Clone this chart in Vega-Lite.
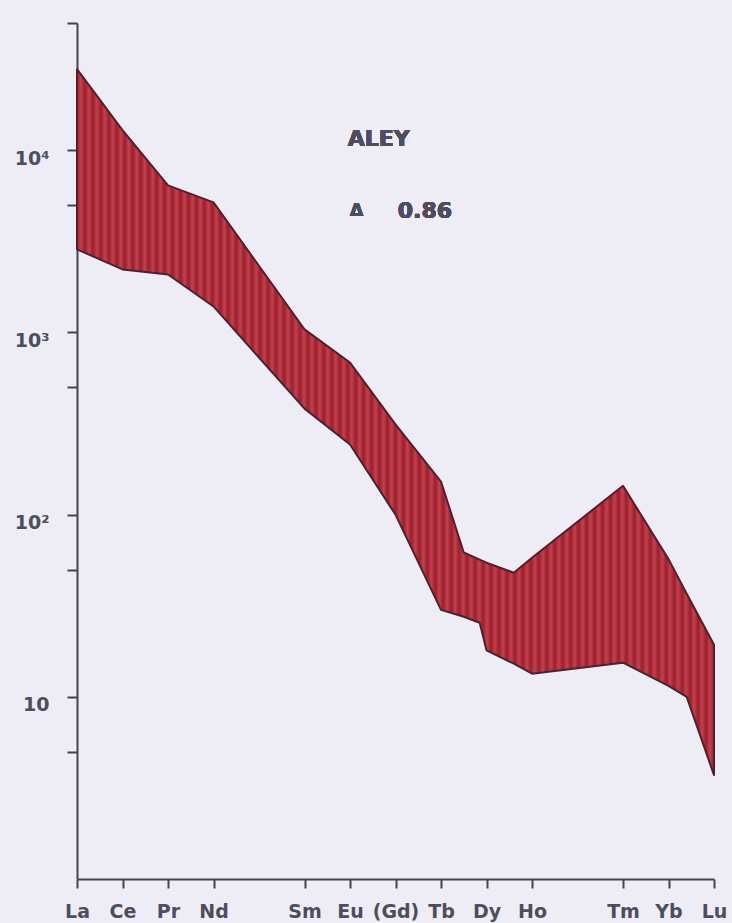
{
  "$schema": "https://vega.github.io/schema/vega-lite/v6.json",
  "autosize": {"type": "none"},
  "width": 637,
  "height": 856,
  "padding": {"left": 77, "top": 23, "right": 18, "bottom": 44},
  "background": "#eeedf6",
  "config": {"view": {"stroke": null}},
  "data": {"values": [
    {"z": 57, "upper": 27900, "lower": 2860},
    {"z": 58, "upper": 12900, "lower": 2220},
    {"z": 59, "upper": 6420, "lower": 2080},
    {"z": 60, "upper": 5180, "lower": 1390},
    {"z": 62, "upper": 1040, "lower": 382},
    {"z": 63, "upper": 684, "lower": 243},
    {"z": 64, "upper": 313, "lower": 100},
    {"z": 65, "upper": 152, "lower": 30},
    {"z": 65.5, "upper": 62, "lower": 27.5},
    {"z": 65.85, "upper": 56.6, "lower": 25.5},
    {"z": 66, "upper": 54.5, "lower": 18},
    {"z": 66.6, "upper": 48, "lower": 15.2},
    {"z": 67, "upper": 58, "lower": 13.4},
    {"z": 69, "upper": 144, "lower": 15.4},
    {"z": 70, "upper": 57, "lower": 11.5},
    {"z": 70.4, "upper": 36.8, "lower": 10},
    {"z": 71, "upper": 19.3, "lower": 3.72}
  ]},
  "layer": [
    {
      "mark": {
        "type": "area",
        "stroke": "#4e2030",
        "strokeWidth": 2,
        "strokeJoin": "round",
        "color": {
          "gradient": "linear", "x1": 0, "x2": 1, "y1": 0, "y2": 0,
          "stops": [
            {"offset": 0, "color": "#98202f"}, {"offset": 0.00625, "color": "#c6404c"}, {"offset": 0.0125, "color": "#98202f"}, {"offset": 0.01875, "color": "#c6404c"},
            {"offset": 0.025, "color": "#98202f"}, {"offset": 0.03125, "color": "#c6404c"}, {"offset": 0.0375, "color": "#98202f"}, {"offset": 0.04375, "color": "#c6404c"},
            {"offset": 0.05, "color": "#98202f"}, {"offset": 0.05625, "color": "#c6404c"}, {"offset": 0.0625, "color": "#98202f"}, {"offset": 0.06875, "color": "#c6404c"},
            {"offset": 0.075, "color": "#98202f"}, {"offset": 0.08125, "color": "#c6404c"}, {"offset": 0.0875, "color": "#98202f"}, {"offset": 0.09375, "color": "#c6404c"},
            {"offset": 0.1, "color": "#98202f"}, {"offset": 0.10625, "color": "#c6404c"}, {"offset": 0.1125, "color": "#98202f"}, {"offset": 0.11875, "color": "#c6404c"},
            {"offset": 0.125, "color": "#98202f"}, {"offset": 0.13125, "color": "#c6404c"}, {"offset": 0.1375, "color": "#98202f"}, {"offset": 0.14375, "color": "#c6404c"},
            {"offset": 0.15, "color": "#98202f"}, {"offset": 0.15625, "color": "#c6404c"}, {"offset": 0.1625, "color": "#98202f"}, {"offset": 0.16875, "color": "#c6404c"},
            {"offset": 0.175, "color": "#98202f"}, {"offset": 0.18125, "color": "#c6404c"}, {"offset": 0.1875, "color": "#98202f"}, {"offset": 0.19375, "color": "#c6404c"},
            {"offset": 0.2, "color": "#98202f"}, {"offset": 0.20625, "color": "#c6404c"}, {"offset": 0.2125, "color": "#98202f"}, {"offset": 0.21875, "color": "#c6404c"},
            {"offset": 0.225, "color": "#98202f"}, {"offset": 0.23125, "color": "#c6404c"}, {"offset": 0.2375, "color": "#98202f"}, {"offset": 0.24375, "color": "#c6404c"},
            {"offset": 0.25, "color": "#98202f"}, {"offset": 0.25625, "color": "#c6404c"}, {"offset": 0.2625, "color": "#98202f"}, {"offset": 0.26875, "color": "#c6404c"},
            {"offset": 0.275, "color": "#98202f"}, {"offset": 0.28125, "color": "#c6404c"}, {"offset": 0.2875, "color": "#98202f"}, {"offset": 0.29375, "color": "#c6404c"},
            {"offset": 0.3, "color": "#98202f"}, {"offset": 0.30625, "color": "#c6404c"}, {"offset": 0.3125, "color": "#98202f"}, {"offset": 0.31875, "color": "#c6404c"},
            {"offset": 0.325, "color": "#98202f"}, {"offset": 0.33125, "color": "#c6404c"}, {"offset": 0.3375, "color": "#98202f"}, {"offset": 0.34375, "color": "#c6404c"},
            {"offset": 0.35, "color": "#98202f"}, {"offset": 0.35625, "color": "#c6404c"}, {"offset": 0.3625, "color": "#98202f"}, {"offset": 0.36875, "color": "#c6404c"},
            {"offset": 0.375, "color": "#98202f"}, {"offset": 0.38125, "color": "#c6404c"}, {"offset": 0.3875, "color": "#98202f"}, {"offset": 0.39375, "color": "#c6404c"},
            {"offset": 0.4, "color": "#98202f"}, {"offset": 0.40625, "color": "#c6404c"}, {"offset": 0.4125, "color": "#98202f"}, {"offset": 0.41875, "color": "#c6404c"},
            {"offset": 0.425, "color": "#98202f"}, {"offset": 0.43125, "color": "#c6404c"}, {"offset": 0.4375, "color": "#98202f"}, {"offset": 0.44375, "color": "#c6404c"},
            {"offset": 0.45, "color": "#98202f"}, {"offset": 0.45625, "color": "#c6404c"}, {"offset": 0.4625, "color": "#98202f"}, {"offset": 0.46875, "color": "#c6404c"},
            {"offset": 0.475, "color": "#98202f"}, {"offset": 0.48125, "color": "#c6404c"}, {"offset": 0.4875, "color": "#98202f"}, {"offset": 0.49375, "color": "#c6404c"},
            {"offset": 0.5, "color": "#98202f"}, {"offset": 0.50625, "color": "#c6404c"}, {"offset": 0.5125, "color": "#98202f"}, {"offset": 0.51875, "color": "#c6404c"},
            {"offset": 0.525, "color": "#98202f"}, {"offset": 0.53125, "color": "#c6404c"}, {"offset": 0.5375, "color": "#98202f"}, {"offset": 0.54375, "color": "#c6404c"},
            {"offset": 0.55, "color": "#98202f"}, {"offset": 0.55625, "color": "#c6404c"}, {"offset": 0.5625, "color": "#98202f"}, {"offset": 0.56875, "color": "#c6404c"},
            {"offset": 0.575, "color": "#98202f"}, {"offset": 0.58125, "color": "#c6404c"}, {"offset": 0.5875, "color": "#98202f"}, {"offset": 0.59375, "color": "#c6404c"},
            {"offset": 0.6, "color": "#98202f"}, {"offset": 0.60625, "color": "#c6404c"}, {"offset": 0.6125, "color": "#98202f"}, {"offset": 0.61875, "color": "#c6404c"},
            {"offset": 0.625, "color": "#98202f"}, {"offset": 0.63125, "color": "#c6404c"}, {"offset": 0.6375, "color": "#98202f"}, {"offset": 0.64375, "color": "#c6404c"},
            {"offset": 0.65, "color": "#98202f"}, {"offset": 0.65625, "color": "#c6404c"}, {"offset": 0.6625, "color": "#98202f"}, {"offset": 0.66875, "color": "#c6404c"},
            {"offset": 0.675, "color": "#98202f"}, {"offset": 0.68125, "color": "#c6404c"}, {"offset": 0.6875, "color": "#98202f"}, {"offset": 0.69375, "color": "#c6404c"},
            {"offset": 0.7, "color": "#98202f"}, {"offset": 0.70625, "color": "#c6404c"}, {"offset": 0.7125, "color": "#98202f"}, {"offset": 0.71875, "color": "#c6404c"},
            {"offset": 0.725, "color": "#98202f"}, {"offset": 0.73125, "color": "#c6404c"}, {"offset": 0.7375, "color": "#98202f"}, {"offset": 0.74375, "color": "#c6404c"},
            {"offset": 0.75, "color": "#98202f"}, {"offset": 0.75625, "color": "#c6404c"}, {"offset": 0.7625, "color": "#98202f"}, {"offset": 0.76875, "color": "#c6404c"},
            {"offset": 0.775, "color": "#98202f"}, {"offset": 0.78125, "color": "#c6404c"}, {"offset": 0.7875, "color": "#98202f"}, {"offset": 0.79375, "color": "#c6404c"},
            {"offset": 0.8, "color": "#98202f"}, {"offset": 0.80625, "color": "#c6404c"}, {"offset": 0.8125, "color": "#98202f"}, {"offset": 0.81875, "color": "#c6404c"},
            {"offset": 0.825, "color": "#98202f"}, {"offset": 0.83125, "color": "#c6404c"}, {"offset": 0.8375, "color": "#98202f"}, {"offset": 0.84375, "color": "#c6404c"},
            {"offset": 0.85, "color": "#98202f"}, {"offset": 0.85625, "color": "#c6404c"}, {"offset": 0.8625, "color": "#98202f"}, {"offset": 0.86875, "color": "#c6404c"},
            {"offset": 0.875, "color": "#98202f"}, {"offset": 0.88125, "color": "#c6404c"}, {"offset": 0.8875, "color": "#98202f"}, {"offset": 0.89375, "color": "#c6404c"},
            {"offset": 0.9, "color": "#98202f"}, {"offset": 0.90625, "color": "#c6404c"}, {"offset": 0.9125, "color": "#98202f"}, {"offset": 0.91875, "color": "#c6404c"},
            {"offset": 0.925, "color": "#98202f"}, {"offset": 0.93125, "color": "#c6404c"}, {"offset": 0.9375, "color": "#98202f"}, {"offset": 0.94375, "color": "#c6404c"},
            {"offset": 0.95, "color": "#98202f"}, {"offset": 0.95625, "color": "#c6404c"}, {"offset": 0.9625, "color": "#98202f"}, {"offset": 0.96875, "color": "#c6404c"},
            {"offset": 0.975, "color": "#98202f"}, {"offset": 0.98125, "color": "#c6404c"}, {"offset": 0.9875, "color": "#98202f"}, {"offset": 0.99375, "color": "#c6404c"},
            {"offset": 1, "color": "#98202f"}
          ]
        }
      },
      "encoding": {
        "x": {
          "field": "z", "type": "quantitative",
          "scale": {"domain": [57, 71], "nice": false, "zero": false},
          "axis": {
            "title": null, "grid": false,
            "values": [57, 58, 59, 60, 62, 63, 64, 65, 66, 67, 69, 70, 71],
            "labelExpr": "['La','Ce','Pr','Nd','Pm','Sm','Eu','(Gd)','Tb','Dy','Ho','Er','Tm','Yb','Lu'][datum.value - 57]",
            "domainColor": "#434352", "domainWidth": 2,
            "tickColor": "#434352", "tickWidth": 2, "tickSize": 9,
            "labelFont": "DejaVu Sans", "labelFontSize": 19, "labelFontWeight": "bold",
            "labelColor": "#4d4d5e", "labelPadding": 14,
            "labelOverlap": false, "labelFlush": false, "labelBound": false
          }
        },
        "y": {
          "field": "upper", "type": "quantitative",
          "scale": {"type": "log", "domain": [1, 50000], "nice": false},
          "axis": {
            "title": null, "grid": false,
            "values": [5, 10, 50, 100, 500, 1000, 5000, 10000, 50000],
            "labelExpr": "datum.value == 10 ? '10' : datum.value == 100 ? '10²' : datum.value == 1000 ? '10³' : datum.value == 10000 ? '10⁴' : ''",
            "domainColor": "#434352", "domainWidth": 2,
            "tickColor": "#434352", "tickWidth": 2, "tickSize": 10,
            "labelFont": "DejaVu Sans", "labelFontSize": 19, "labelFontWeight": "bold",
            "labelColor": "#4d4d5e", "labelPadding": 18, "labelOffset": 8,
            "labelOverlap": false, "labelFlush": false, "labelBound": false
          }
        },
        "y2": {"field": "lower"}
      }
    },
    {
      "mark": {"type": "text", "text": "ALEY", "align": "left", "baseline": "middle", "font": "DejaVu Sans", "fontSize": 22, "fontWeight": "bold", "color": "#4d4d5e"},
      "encoding": {"x": {"datum": 62.95}, "y": {"datum": 11500}}
    },
    {
      "mark": {"type": "text", "text": "Δ", "align": "left", "baseline": "middle", "font": "DejaVu Sans", "fontSize": 17, "fontWeight": "bold", "color": "#4d4d5e"},
      "encoding": {"x": {"datum": 63.0}, "y": {"datum": 4625}}
    },
    {
      "mark": {"type": "text", "text": "0.86", "align": "left", "baseline": "middle", "font": "DejaVu Sans", "fontSize": 22, "fontWeight": "bold", "color": "#4d4d5e"},
      "encoding": {"x": {"datum": 64.05}, "y": {"datum": 4625}}
    }
  ]
}
